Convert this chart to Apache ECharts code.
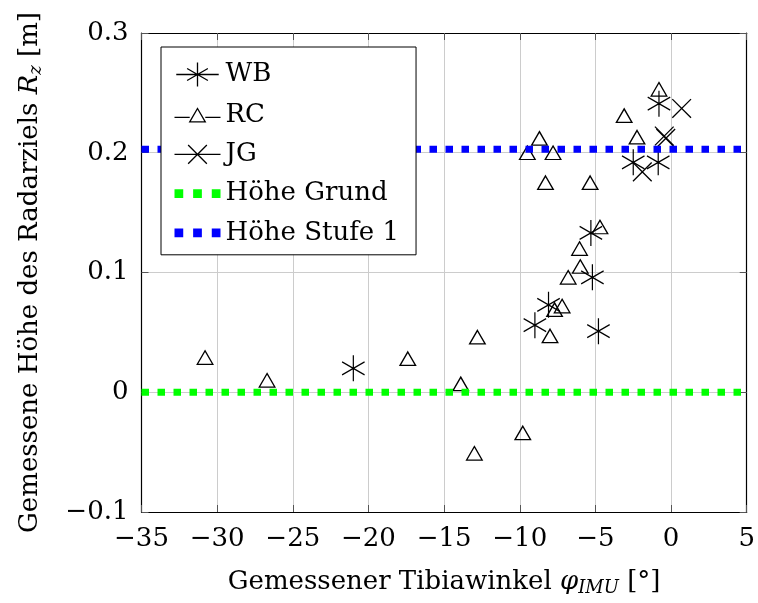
<!DOCTYPE html>
<html>
<head>
<meta charset="utf-8">
<script src="https://cdn.jsdelivr.net/npm/echarts@6/dist/echarts.min.js"></script>
<style>
  html, body { margin: 0; padding: 0; background: #fff; }
  #chart { width: 758px; height: 603px; }
</style>
</head>
<body>
<div id="chart"></div>
<script>
// Measured radar target height vs. tibia angle, per subject
const wbAngles  = [-21.0, -9.0, -8.1, -4.8, -5.2, -5.3, -0.8, -2.5, -0.85];
const wbHeights = [0.020, 0.056, 0.073, 0.051, 0.096, 0.133, 0.241, 0.192, 0.192];

const rcAngles  = [-30.8, -26.7, -17.4, -13.9, -12.8, -13.0, -9.8, -8.0, -7.7, -7.2, -6.8, -6.0, -6.05, -4.7,
                   -8.7, -9.5, -7.8, -8.3, -5.35, -3.1, -2.25, -0.8];
const rcHeights = [0.029, 0.010, 0.028, 0.007, 0.046, -0.051, -0.034, 0.047, 0.069, 0.072, 0.096, 0.105, 0.120, 0.138,
                   0.212, 0.200, 0.200, 0.175, 0.175, 0.231, 0.213, 0.253];

const jgAngles  = [0.7, -0.45, -0.35, -1.9];
const jgHeights = [0.237, 0.214, 0.212, 0.184];

// Reference heights
const groundHeight = 0;
const step1Height = 0.203;

// Axis ranges and tick spacing
const xMin = -35, xMax = 5, xStep = 5;
const yMin = -0.1, yMax = 0.3, yStep = 0.1;

const seriesNames = ['WB', 'RC', 'JG', 'Höhe Grund', 'Höhe Stufe 1'];

const FONT = 'DejaVu Serif';
const FS = 26;

function pairs(xs, ys) { return xs.map((x, i) => [x, ys[i]]); }
const minus = v => String(v).replace('-', '\u2212');

// Marker outlines (stroked only)
const asteriskPath = 'path://M0,-13L0,13M-11.26,-6.5L11.26,6.5M-11.26,6.5L11.26,-6.5';
const trianglePath = 'path://M0,-9L7.79,4.5L-7.79,4.5Z';
const crossPath = 'path://M-9.35,-9.35L9.35,9.35M-9.35,9.35L9.35,-9.35';

// Legend icons: short line through the marker, or three dashes
const asteriskIcon = 'path://M-23,0L23,0M0,-13L0,13M-11.26,-6.5L11.26,6.5M-11.26,6.5L11.26,-6.5';
const triangleIcon = 'path://M-23,0L-7.79,0M7.79,0L23,0M0,-9L7.79,4.5L-7.79,4.5Z';
const crossIcon = 'path://M-23,0L23,0M-9.35,-9.35L9.35,9.35M-9.35,9.35L9.35,-9.35';
const dashIcon = 'path://M0,0h7.5v7.5h-7.5zM16,0h7.5v7.5h-7.5zM32,0h7.5v7.5h-7.5z';

const markStyle = { color: 'none', borderColor: '#000', borderWidth: 1.3, opacity: 1 };

const chart = echarts.init(document.getElementById('chart'), null, { renderer: 'canvas' });

const baseText = { fontFamily: FONT, fontSize: FS, color: '#000' };
const subText = { ...baseText, fontSize: 18, fontStyle: 'italic', padding: [12, 0, 0, 0] };

const frameLine = { show: true, onZero: false, lineStyle: { color: '#000', width: 1.2 } };
const innerTick = { show: true, inside: true, length: 7, lineStyle: { color: '#555' } };

chart.setOption({
  animation: false,
  backgroundColor: '#fff',
  textStyle: { fontFamily: FONT },
  grid: { left: 141.5, right: 9, top: 33, bottom: 91, containLabel: false },
  legend: {
    orient: 'vertical',
    left: 161,
    top: 47,
    padding: [13, 17, 9, 11],
    itemWidth: 46,
    itemHeight: 24,
    itemGap: 13.2,
    backgroundColor: '#fff',
    borderColor: '#000',
    borderWidth: 1,
    borderRadius: 0,
    textStyle: { fontFamily: FONT, fontSize: FS, color: '#000' },
    symbolKeepAspect: true,
    selectedMode: false,
    data: [
      { name: seriesNames[0], icon: asteriskIcon, itemStyle: markStyle },
      { name: seriesNames[1], icon: triangleIcon, itemStyle: markStyle },
      { name: seriesNames[2], icon: crossIcon, itemStyle: markStyle },
      { name: seriesNames[3], icon: dashIcon, itemStyle: { color: '#00ff00', borderWidth: 0 } },
      { name: seriesNames[4], icon: dashIcon, itemStyle: { color: '#0000ff', borderWidth: 0 } }
    ]
  },
  xAxis: [{
    type: 'value',
    min: xMin, max: xMax, interval: xStep,
    name: '{t|Gemessener Tibiawinkel }{v|φ}{s|IMU}{t| [°]}',
    nameLocation: 'middle',
    nameGap: 55,
    nameTextStyle: {
      ...baseText,
      rich: { t: { ...baseText }, v: { ...baseText, fontStyle: 'italic' }, s: subText }
    },
    axisLine: frameLine,
    axisTick: innerTick,
    axisLabel: { ...baseText, margin: 14, formatter: minus },
    splitLine: { show: true, lineStyle: { color: '#cccccc', width: 1 } }
  }, {
    type: 'value', position: 'top',
    min: xMin, max: xMax, interval: xStep,
    axisLine: frameLine,
    axisTick: innerTick,
    axisLabel: { show: false },
    splitLine: { show: false }
  }],
  yAxis: [{
    type: 'value',
    min: yMin, max: yMax, interval: yStep,
    name: '{t|Gemessene Höhe des Radarziels }{v|R}{s|z}{t| [m]}',
    nameLocation: 'middle',
    nameRotate: 90,
    nameGap: 96,
    nameTextStyle: {
      ...baseText,
      rich: { t: { ...baseText }, v: { ...baseText, fontStyle: 'italic' }, s: subText }
    },
    axisLine: frameLine,
    axisTick: innerTick,
    axisLabel: { ...baseText, margin: 13, formatter: v => minus(+v.toFixed(1)) },
    splitLine: { show: true, lineStyle: { color: '#cccccc', width: 1 } }
  }, {
    type: 'value', position: 'right',
    min: yMin, max: yMax, interval: yStep,
    axisLine: frameLine,
    axisTick: innerTick,
    axisLabel: { show: false },
    splitLine: { show: false }
  }],
  series: [
    {
      name: seriesNames[0], type: 'scatter',
      symbol: asteriskPath, symbolSize: [22.5, 26],
      itemStyle: markStyle,
      data: pairs(wbAngles, wbHeights)
    },
    {
      name: seriesNames[1], type: 'scatter',
      symbol: trianglePath, symbolSize: [15.6, 13.5],
      itemStyle: markStyle,
      data: pairs(rcAngles, rcHeights)
    },
    {
      name: seriesNames[2], type: 'scatter',
      symbol: crossPath, symbolSize: [18.7, 18.7],
      itemStyle: markStyle,
      data: pairs(jgAngles, jgHeights)
    },
    {
      name: seriesNames[3], type: 'line',
      symbol: 'none', color: '#00ff00',
      lineStyle: { color: '#00ff00', width: 7, type: [7.5, 8.5], cap: 'butt' },
      data: [[xMin, groundHeight], [xMax, groundHeight]]
    },
    {
      name: seriesNames[4], type: 'line',
      symbol: 'none', color: '#0000ff',
      lineStyle: { color: '#0000ff', width: 7, type: [7.5, 8.5], cap: 'butt' },
      data: [[xMin, step1Height], [xMax, step1Height]]
    }
  ]
});
</script>
</body>
</html>
